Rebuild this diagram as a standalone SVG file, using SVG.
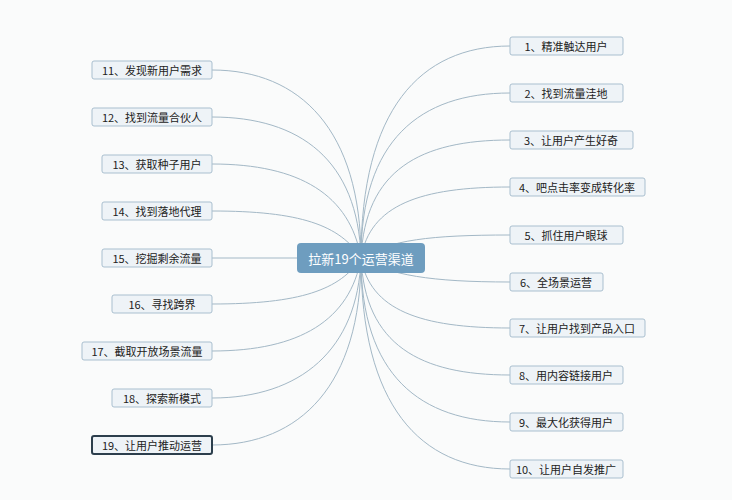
<svg xmlns="http://www.w3.org/2000/svg" width="732" height="500" viewBox="0 0 732 500">
<style>
.n rect{fill:#eef3f7;stroke:#a9bfcf;stroke-width:1}
.n text{font-family:"Noto Sans CJK SC","Liberation Sans",sans-serif;font-size:11px;fill:#222;text-anchor:middle;dominant-baseline:central}
#c path{fill:none;stroke:#a3b8c6;stroke-width:1}
</style>
<rect width="732" height="500" fill="#fafbfb"/>
<g id="c">
<path d="M361,258 C361,110 420,46 510,46"/>
<path d="M361,258 C361,140 420,93 510,93"/>
<path d="M361,258 C365,170 420,140 510,140"/>
<path d="M361,258 C370,205 420,187 510,187"/>
<path d="M361,258 C390,240 430,235 510,235"/>
<path d="M361,258 C390,275 430,282 510,282"/>
<path d="M361,258 C370,310 420,328 510,328"/>
<path d="M361,258 C365,345 420,375 510,375"/>
<path d="M361,258 C361,375 420,422 510,422"/>
<path d="M361,258 C361,405 420,469 510,469"/>
<path d="M361,258 C361,130 300,70 212,70"/>
<path d="M361,258 C358,160 300,117 212,117"/>
<path d="M361,258 C350,195 300,164 212,164"/>
<path d="M361,258 C340,225 300,211 212,211"/>
<path d="M297,258 L212,258"/>
<path d="M361,258 C340,290 300,304 212,304"/>
<path d="M361,258 C350,320 300,351 212,351"/>
<path d="M361,258 C358,350 300,398 212,398"/>
<path d="M361,258 C361,385 300,445 212,445"/>
</g>
<g id="center"><rect x="297" y="243" width="128" height="30" rx="4" fill="#6e9dbf"/><text x="361" y="258" font-family="Noto Sans CJK SC,sans-serif" font-size="13" fill="#fff" text-anchor="middle" dominant-baseline="central">拉新19个运营渠道</text></g>
<g id="n1" class="n"><rect x="510" y="37" width="113" height="18" rx="2"/><text x="566" y="46">1、精准触达用户</text></g>
<g id="n2" class="n"><rect x="510" y="84" width="113" height="18" rx="2"/><text x="566" y="93">2、找到流量洼地</text></g>
<g id="n3" class="n"><rect x="510" y="131" width="123" height="18" rx="2"/><text x="571" y="140">3、让用户产生好奇</text></g>
<g id="n4" class="n"><rect x="510" y="178" width="135" height="18" rx="2"/><text x="577" y="187">4、吧点击率变成转化率</text></g>
<g id="n5" class="n"><rect x="510" y="226" width="113" height="18" rx="2"/><text x="566" y="235">5、抓住用户眼球</text></g>
<g id="n6" class="n"><rect x="510" y="273" width="93" height="18" rx="2"/><text x="556" y="282">6、全场景运营</text></g>
<g id="n7" class="n"><rect x="510" y="319" width="135" height="18" rx="2"/><text x="577" y="328">7、让用户找到产品入口</text></g>
<g id="n8" class="n"><rect x="510" y="366" width="113" height="18" rx="2"/><text x="566" y="375">8、用内容链接用户</text></g>
<g id="n9" class="n"><rect x="510" y="413" width="113" height="18" rx="2"/><text x="566" y="422">9、最大化获得用户</text></g>
<g id="n10" class="n"><rect x="510" y="460" width="113" height="18" rx="2"/><text x="566" y="469">10、让用户自发推广</text></g>
<g id="n11" class="n"><rect x="92" y="61" width="120" height="18" rx="2"/><text x="152" y="70">11、发现新用户需求</text></g>
<g id="n12" class="n"><rect x="92" y="108" width="120" height="18" rx="2"/><text x="152" y="117">12、找到流量合伙人</text></g>
<g id="n13" class="n"><rect x="102" y="155" width="110" height="18" rx="2"/><text x="157" y="164">13、获取种子用户</text></g>
<g id="n14" class="n"><rect x="102" y="202" width="110" height="18" rx="2"/><text x="157" y="211">14、找到落地代理</text></g>
<g id="n15" class="n"><rect x="102" y="249" width="110" height="18" rx="2"/><text x="157" y="258">15、挖掘剩余流量</text></g>
<g id="n16" class="n"><rect x="112" y="295" width="100" height="18" rx="2"/><text x="162" y="304">16、寻找跨界</text></g>
<g id="n17" class="n"><rect x="82" y="342" width="130" height="18" rx="2"/><text x="147" y="351">17、截取开放场景流量</text></g>
<g id="n18" class="n"><rect x="112" y="389" width="100" height="18" rx="2"/><text x="162" y="398">18、探索新模式</text></g>
<g id="n19" class="n"><rect x="92" y="436" width="120" height="18" rx="2" style="stroke:#2c3e4c;stroke-width:2"/><text x="152" y="445">19、让用户推动运营</text></g>
</svg>
